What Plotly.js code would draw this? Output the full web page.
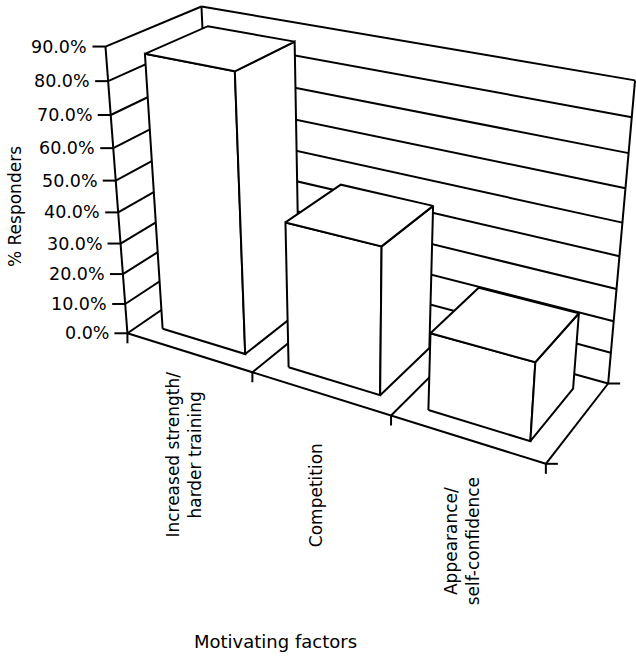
<!DOCTYPE html>
<html><head><meta charset="utf-8">
<script src="https://cdn.plot.ly/plotly-3.0.1.min.js"></script>
<style>html,body{margin:0;padding:0;background:#fff}</style>
</head><body><div id="chart" style="width:636px;height:656px"></div>
<script>
// ---- data ----
const categories = ["Increased strength/<br>harder training", "Competition", "Appearance/<br>self-confidence"];
const values = [87, 46, 24];
const tickValues = [0, 10, 20, 30, 40, 50, 60, 70, 80, 90];
const tickLabels = ["0.0%", "10.0%", "20.0%", "30.0%", "40.0%", "50.0%", "60.0%", "70.0%", "80.0%", "90.0%"];
const yMax = 90;
const yTitle = "% Responders";
const xTitle = "Motivating factors";

// ---- projection calibration of the 3D frame (u: category, v: depth, w: value, all 0..1) ----
const frameCalib = [
  [0, 0, 0, 127, 333], [0, 0, 1, 105, 47], [0, 1, 1, 202, 6],
  [1, 0, 0, 547, 463], [1, 1, 0, 608, 384], [1, 1, 1, 635, 80],
  [0, 0, 5/9, 116, 181], [1, 1, 5/9, 622, 223],
  [1/3, 0, 0, 253, 372], [2/3, 0, 0, 390, 416]
];
const gap = 1/6;

function fitCamera(pts) {
  const cx = 318, cy = 328, s = 300, n = 11;
  const M = [...Array(n)].map(() => Array(n + 1).fill(0));
  const add = (r, b) => { for (let i = 0; i < n; i++) { for (let j = 0; j < n; j++) M[i][j] += r[i] * r[j]; M[i][n] += r[i] * b; } };
  for (const [X, Y, Z, px, py] of pts) {
    const x = (px - cx) / s, y = (py - cy) / s;
    add([X, Y, Z, 1, 0, 0, 0, 0, -x * X, -x * Y, -x * Z], x);
    add([0, 0, 0, 0, X, Y, Z, 1, -y * X, -y * Y, -y * Z], y);
  }
  for (let c = 0; c < n; c++) {
    let piv = c;
    for (let r = c + 1; r < n; r++) if (Math.abs(M[r][c]) > Math.abs(M[piv][c])) piv = r;
    [M[c], M[piv]] = [M[piv], M[c]];
    for (let r = 0; r < n; r++) {
      if (r === c) continue;
      const f = M[r][c] / M[c][c];
      for (let k = c; k <= n; k++) M[r][k] -= f * M[c][k];
    }
  }
  const p = M.map((row, i) => row[n] / row[i]);
  return (X, Y, Z) => {
    const d = p[8] * X + p[9] * Y + p[10] * Z + 1;
    return [(p[0] * X + p[1] * Y + p[2] * Z + p[3]) / d * s + cx,
            (p[4] * X + p[5] * Y + p[6] * Z + p[7]) / d * s + cy];
  };
}
const proj = fitCamera(frameCalib);

const traces = [];
const lineStyle = { color: "#000", width: 2 };
function segTrace(segs) {
  const xs = [], ys = [];
  segs.forEach(sg => { sg.forEach(pt => { xs.push(pt[0]); ys.push(pt[1]); }); xs.push(null); ys.push(null); });
  traces.push({ type: "scatter", mode: "lines", x: xs, y: ys, line: lineStyle, hoverinfo: "skip" });
}
function polyTrace(pts) {
  const xs = pts.map(p => p[0]), ys = pts.map(p => p[1]);
  xs.push(xs[0]); ys.push(ys[0]);
  traces.push({ type: "scatter", mode: "lines", x: xs, y: ys, fill: "toself", fillcolor: "#fff", line: lineStyle, hoverinfo: "skip" });
}

const nCat = categories.length;
const segs = [];
// wall gridlines
tickValues.forEach(t => {
  const w = t / yMax;
  segs.push([proj(0, 0, w), proj(0, 1, w)]);
  segs.push([proj(0, 1, w), proj(1, 1, w)]);
});
// wall edges
segs.push([proj(0, 0, 0), proj(0, 0, 1)]);
segs.push([proj(0, 1, 0), proj(0, 1, 1)]);
segs.push([proj(1, 1, 0), proj(1, 1, 1)]);
// floor
segs.push([proj(0, 0, 0), proj(1, 0, 0)]);
segs.push([proj(1, 0, 0), proj(1, 1, 0)]);
for (let k = 1; k < nCat; k++) segs.push([proj(k / nCat, 0, 0), proj(k / nCat, 1, 0)]);
// ticks
tickValues.forEach(t => { const p = proj(0, 0, t / yMax); segs.push([[p[0] - 13, p[1]], p]); });
for (let k = 0; k <= nCat; k++) { const p = proj(k / nCat, 0, 0); segs.push([p, [p[0], p[1] + 10]]); }
[proj(1, 0, 0), proj(1, 1, 0)].forEach(p => segs.push([p, [p[0] + 12, p[1]]]));
segTrace(segs);

// bars
values.forEach((val, i) => {
  const u0 = (i + gap) / nCat, u1 = (i + 1 - gap) / nCat, v0 = gap, v1 = 1 - gap, h = val / yMax;
  polyTrace([proj(u0, v0, 0), proj(u1, v0, 0), proj(u1, v0, h), proj(u0, v0, h)]);
  polyTrace([proj(u1, v0, 0), proj(u1, v1, 0), proj(u1, v1, h), proj(u1, v0, h)]);
  polyTrace([proj(u0, v0, h), proj(u1, v0, h), proj(u1, v1, h), proj(u0, v1, h)]);
});

const fam = "DejaVu Sans, Verdana, sans-serif";
const tickFont = { family: fam, size: 17.5, color: "#000" };
const catFont = { family: fam, size: 17, color: "#000" };
const titleFont = { family: fam, size: 17, color: "#000" };
const xTitleFont = { family: fam, size: 18, color: "#000" };
const annotations = [];
tickValues.forEach((t, k) => {
  const p = proj(0, 0, t / yMax);
  annotations.push({ x: p[0] - 16, y: p[1], xref: "x", yref: "y", text: tickLabels[k], showarrow: false, xanchor: "right", yanchor: "middle", font: tickFont });
});
categories.forEach((c, i) => {
  const p = proj((i + 0.5) / nCat, 0, 0);
  annotations.push({ x: p[0] - 4, y: p[1] + 102, xref: "x", yref: "y", text: c, showarrow: false, textangle: -90, xanchor: "center", yanchor: "middle", font: catFont });
});
annotations.push({ x: 15, y: 207, xref: "x", yref: "y", text: yTitle, showarrow: false, textangle: -90, xanchor: "center", yanchor: "middle", font: titleFont });
annotations.push({ x: 275, y: 641, xref: "x", yref: "y", text: xTitle, showarrow: false, xanchor: "center", yanchor: "middle", font: xTitleFont });

Plotly.newPlot("chart", traces, {
  width: 636, height: 656, margin: { l: 0, r: 0, t: 0, b: 0 },
  paper_bgcolor: "#fff", plot_bgcolor: "#fff", showlegend: false, hovermode: false,
  xaxis: { range: [0, 636], visible: false, fixedrange: true },
  yaxis: { range: [656, 0], visible: false, fixedrange: true },
  annotations
}, { staticPlot: true, displayModeBar: false });
</script></body></html>
